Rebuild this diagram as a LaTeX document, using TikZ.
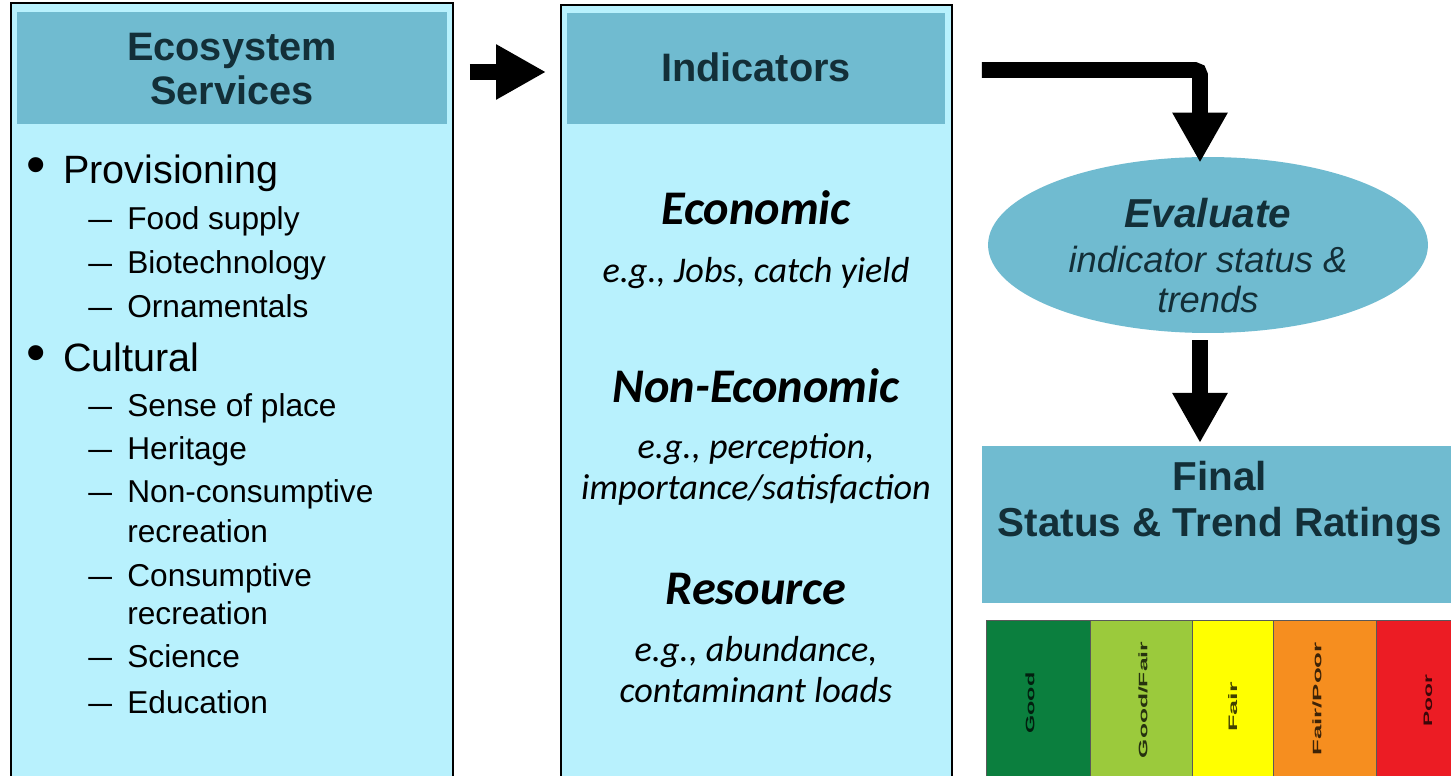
\documentclass[tikz,border=0pt]{standalone}
\usepackage{fontspec}
\setmainfont{Liberation Sans}
\newfontfamily\calibfont{Carlito}
\usetikzlibrary{arrows.meta,calc,shapes.geometric}

\definecolor{paleblue}{HTML}{B8F1FD}
\definecolor{headblue}{HTML}{70BBD0}
\definecolor{darkteal}{HTML}{132F38}
\definecolor{rgood}{HTML}{0B7F3E}
\definecolor{rgoodfair}{HTML}{9BCA3C}
\definecolor{rfair}{HTML}{FFFF00}
\definecolor{rfairpoor}{HTML}{F68E1F}
\definecolor{rpoor}{HTML}{EC1C24}

\begin{document}
\begin{tikzpicture}[
        x=0.02cm, y=-0.02cm,
        panel/.style = {draw=black, line width=1.1pt, fill=paleblue, inner sep=0pt},
        head/.style = {fill=headblue, inner sep=0pt},
        title/.style = {text=darkteal, anchor=base, align=center, inner sep=0pt, font=\fontsize{22.6}{25.5}\selectfont\bfseries},
        item/.style = {anchor=base west, inner sep=0pt, font=\fontsize{22.5}{24}\selectfont},
        subitem/.style = {anchor=base west, inner sep=0pt, font=\fontsize{18}{20}\selectfont},
        kind/.style = {anchor=base, inner sep=0pt, font=\calibfont\fontsize{27.5}{30}\selectfont\bfseries\itshape},
        example/.style = {anchor=base, align=center, inner sep=0pt, font=\calibfont\fontsize{20.6}{23.8}\selectfont\itshape},
        rating/.style = {draw=black!65, line width=0.4pt, anchor=north west, minimum height=3.4cm, inner sep=0pt},
        ratelabel/.style = {rotate=90, inner sep=0pt, text opacity=0.75, font=\fontsize{7}{8}\selectfont\bfseries},
        flow/.style = {draw=black, line width=9pt, -{Triangle[width=29.5pt, length=28.5pt]}}
    ]
 \clip (0,0) rectangle (1451,776);

 % ecosystem services panel
 \node[panel, minimum width=8.84cm, minimum height=15.74cm] (services) at (232,396.5) {};
 \node[head, minimum width=8.6cm, minimum height=2.24cm] (svchead) at (232,68) {};
 \node[title] (svctitle) at (232,105) {Ecosystem\\Services};

 \node[item] (bul1) at (26,184) {\scalebox{1.4}{\textbullet}};
 \node[item] (prov) at (63,184) {Provisioning};
 \node[item] (bul2) at (26,372) {\scalebox{1.4}{\textbullet}};
 \node[item] (cult) at (63,372) {Cultural};
 \foreach \y/\name/\txt in {230/food/Food supply, 274/bio/Biotechnology, 318/orn/Ornamentals,
                            417/sense/Sense of place, 460/heri/Heritage, 503/noncon/Non-consumptive,
                            587/cons/Consumptive, 668/sci/Science, 713/edu/Education}
   {
   \node[subitem] (dash-\name) at (88,\y) {\scalebox{1.35}[1]{–}};
   \node[subitem] (\name) at (127,\y) {\txt};
   }
 \node[subitem] (noncon2) at (127,543) {recreation};
 \node[subitem] (cons2) at (127,625) {recreation};

 % indicators panel
 \node[panel, minimum width=7.82cm, minimum height=15.7cm] (indicators) at (756.5,397.5) {};
 \node[head, minimum width=7.56cm, minimum height=2.22cm] (indhead) at (756,68.5) {};
 \node[title] (indtitle) at (756,82) {Indicators};

 \node[kind] (econ) at (756,225) {Economic};
 \node[example] (econex) at (756,283) {e.g., Jobs, catch yield};
 \node[kind] (nonecon) at (756,403) {Non-Economic};
 \node[example] (noneconex) at (756,500) {e.g., perception,\\importance/satisfaction};
 \node[kind] (res) at (756,605) {Resource};
 \node[example] (resex) at (756,703) {e.g., abundance,\\contaminant loads};

 % evaluation and ratings
 \node[ellipse, fill=headblue, minimum width=8.8cm, minimum height=3.52cm, inner sep=0pt] (evaluate) at (1208,245) {};
 \node[text=darkteal, anchor=base, align=center, inner sep=0pt, font=\fontsize{20.7}{23.3}\selectfont\itshape] (evaltext) at (1208,313)
     {{\fontsize{23}{25.5}\selectfont\bfseries Evaluate}\\[2.3pt]indicator status \&\\trends};

 \node[head, anchor=north west, minimum width=9.6cm, minimum height=3.14cm] (final) at (982,446) {};
 \node[title, font=\fontsize{23}{26.6}\selectfont\bfseries] (finaltitle) at (1220,537) {Final\\Status \& Trend Ratings};

 \node[rating, fill=rgood, minimum width=2.08cm] (good) at (986,620) {};
 \node[rating, fill=rgoodfair, minimum width=2.04cm] (goodfair) at (1090,620) {};
 \node[rating, fill=rfair, minimum width=1.62cm] (fair) at (1192,620) {};
 \node[rating, fill=rfairpoor, minimum width=2.06cm] (fairpoor) at (1273,620) {};
 \node[rating, fill=rpoor, minimum width=1.68cm] (poor) at (1376,620) {};

 \node[ratelabel] (goodtxt) at (1030,703) {\scalebox{1.9}[1]{Good}};
 \node[ratelabel] (goodfairtxt) at (1143,700) {\scalebox{2}[1]{Good/Fair}};
 \node[ratelabel] (fairtxt) at (1233,707) {\scalebox{2.2}[1]{Fair}};
 \node[ratelabel] (fairpoortxt) at (1317,699) {\scalebox{2.1}[1]{Fair/Poor}};
 \node[ratelabel] (poortxt) at (1428,701) {\scalebox{1.85}[1]{Poor}};

 % block arrows
 \draw[flow] ($(services.east |- svchead.center)+(16,4)$) -- ($(indicators.west |- svchead.center)+(-14,4)$);
 \draw[flow, rounded corners=3pt] ($(indicators.east |- indhead.center)+(29,1.5)$) -| ($(evaluate.north)+(-8,6)$);
 \draw[flow] ($(evaluate.south)+(-8,7)$) -- ($(final.north west)+(218,-3)$);
\end{tikzpicture}
\end{document}
